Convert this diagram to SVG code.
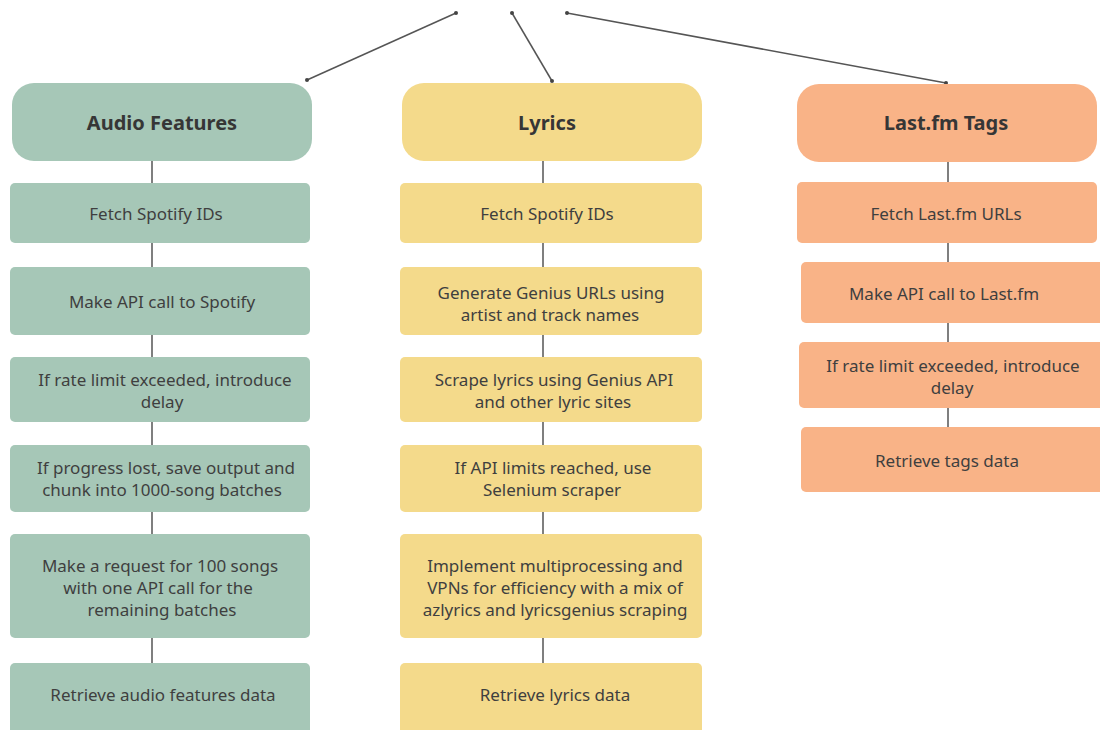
<svg xmlns="http://www.w3.org/2000/svg" width="1100" height="730" viewBox="0 0 1100 730">
<style>
.g{fill:#a6c7b7}.y{fill:#f4da8b}.o{fill:#f9b387}
text{font-family:"Noto Sans","Liberation Sans",sans-serif;font-size:17px;fill:#3f3f3f;text-anchor:middle;dominant-baseline:central}
.h{font-size:20px;font-weight:bold;fill:#363636}
.c{stroke:#555;stroke-width:1.5;fill:none}
.d{fill:#444}
</style>
<rect width="1100" height="730" fill="#fff"/>
<g id="connectors">
<line class="c" x1="152" y1="161" x2="152" y2="663"/>
<line class="c" x1="543" y1="161" x2="543" y2="663"/>
<line class="c" x1="948" y1="162" x2="948" y2="427"/>
<line class="c" x1="456" y1="13" x2="307" y2="80" stroke-width="1.2"/>
<line class="c" x1="512" y1="13" x2="552" y2="81" stroke-width="1.2"/>
<line class="c" x1="567" y1="13" x2="946" y2="83" stroke-width="1.2"/>
<circle class="d" cx="456" cy="13" r="2"/><circle class="d" cx="307" cy="80" r="2"/>
<circle class="d" cx="512" cy="13" r="2"/><circle class="d" cx="552" cy="81" r="2"/>
<circle class="d" cx="567" cy="13" r="2"/><circle class="d" cx="946" cy="83" r="2"/>
</g>
<g id="audio-header"><rect class="g" x="12" y="83" width="300" height="78" rx="22"/><text class="h" x="162" y="122">Audio Features</text></g>
<g id="a1"><rect class="g" x="10" y="183" width="300" height="60" rx="5"/><text x="156" y="213">Fetch Spotify IDs</text></g>
<g id="a2"><rect class="g" x="10" y="267" width="300" height="68" rx="5"/><text x="162" y="301">Make API call to Spotify</text></g>
<g id="a3"><rect class="g" x="10" y="357" width="300" height="65" rx="5"/><text x="165" y="379">If rate limit exceeded, introduce</text><text x="162" y="401">delay</text></g>
<g id="a4"><rect class="g" x="10" y="445" width="300" height="67" rx="5"/><text x="166" y="467">If progress lost, save output and</text><text x="162" y="489">chunk into 1000-song batches</text></g>
<g id="a5"><rect class="g" x="10" y="534" width="300" height="104" rx="5"/><text x="160" y="565">Make a request for 100 songs</text><text x="158" y="587">with one API call for the</text><text x="162" y="609">remaining batches</text></g>
<g id="a6"><rect class="g" x="10" y="663" width="300" height="72" rx="5"/><text x="163" y="694">Retrieve audio features data</text></g>
<g id="lyrics-header"><rect class="y" x="402" y="83" width="300" height="78" rx="22"/><text class="h" x="547" y="122">Lyrics</text></g>
<g id="l1"><rect class="y" x="400" y="183" width="302" height="60" rx="5"/><text x="547" y="213">Fetch Spotify IDs</text></g>
<g id="l2"><rect class="y" x="400" y="267" width="302" height="68" rx="5"/><text x="551" y="292">Generate Genius URLs using</text><text x="550" y="314">artist and track names</text></g>
<g id="l3"><rect class="y" x="400" y="357" width="302" height="65" rx="5"/><text x="554" y="379">Scrape lyrics using Genius API</text><text x="553" y="401">and other lyric sites</text></g>
<g id="l4"><rect class="y" x="400" y="445" width="302" height="67" rx="5"/><text x="553" y="467">If API limits reached, use</text><text x="552" y="489">Selenium scraper</text></g>
<g id="l5"><rect class="y" x="400" y="534" width="302" height="104" rx="5"/><text x="555" y="565">Implement multiprocessing and</text><text x="555" y="587">VPNs for efficiency with a mix of</text><text x="555" y="609">azlyrics and lyricsgenius scraping</text></g>
<g id="l6"><rect class="y" x="400" y="663" width="302" height="72" rx="5"/><text x="555" y="694">Retrieve lyrics data</text></g>
<g id="lastfm-header"><rect class="o" x="797" y="84" width="300" height="78" rx="22"/><text class="h" x="946" y="122">Last.fm Tags</text></g>
<g id="t1"><rect class="o" x="797" y="182" width="300" height="61" rx="5"/><text x="946" y="213">Fetch Last.fm URLs</text></g>
<g id="t2"><rect class="o" x="801" y="262" width="305" height="61" rx="5"/><text x="944" y="293">Make API call to Last.fm</text></g>
<g id="t3"><rect class="o" x="799" y="342" width="307" height="66" rx="5"/><text x="953" y="365">If rate limit exceeded, introduce</text><text x="952" y="387">delay</text></g>
<g id="t4"><rect class="o" x="801" y="427" width="305" height="65" rx="5"/><text x="947" y="460">Retrieve tags data</text></g>
</svg>
